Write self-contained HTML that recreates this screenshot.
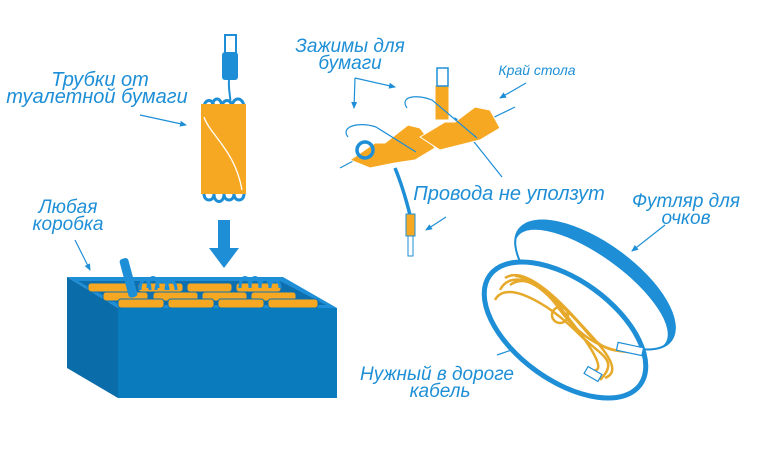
<!DOCTYPE html>
<html><head><meta charset="utf-8"><style>
html,body{margin:0;padding:0;background:#fff;}
svg{display:block}
text{font-family:"Liberation Sans",sans-serif;font-style:italic;fill:#1e8fd6;}
</style></head><body>
<svg width="760" height="457" viewBox="0 0 760 457" xmlns="http://www.w3.org/2000/svg">
<defs>
<marker id="a" markerWidth="8" markerHeight="8" refX="6" refY="3" orient="auto" markerUnits="userSpaceOnUse"><path d="M0,0 L7,3 L0,6 z" fill="#1e8fd6"/></marker>
</defs>
<text x="100" y="86" font-size="20" text-anchor="middle">Трубки от</text>
<text x="97" y="103" font-size="20" text-anchor="middle">туалетной бумаги</text>
<text x="68" y="213" font-size="19" text-anchor="middle">Любая</text>
<text x="68" y="230" font-size="19" text-anchor="middle">коробка</text>
<text x="350" y="52" font-size="19" text-anchor="middle">Зажимы для</text>
<text x="350" y="69" font-size="19" text-anchor="middle">бумаги</text>
<text x="537" y="75" font-size="14" text-anchor="middle">Край стола</text>
<text x="509" y="200" font-size="20" text-anchor="middle">Провода не уползут</text>
<text x="686" y="207" font-size="19" text-anchor="middle">Футляр для</text>
<text x="686" y="224" font-size="19" text-anchor="middle">очков</text>
<text x="437" y="380" font-size="19" text-anchor="middle">Нужный в дороге</text>
<text x="440" y="397" font-size="19" text-anchor="middle">кабель</text>
<g stroke="#1e8fd6" stroke-width="1.2" fill="none">
<line x1="140" y1="115" x2="186" y2="125" marker-end="url(#a)"/>
<line x1="75" y1="240" x2="90" y2="270" marker-end="url(#a)"/>
<polyline points="355,78 395,87" marker-end="url(#a)"/>
<line x1="355" y1="78" x2="354" y2="108" marker-end="url(#a)"/>
<line x1="526" y1="83" x2="500" y2="98" marker-end="url(#a)"/>
<line x1="502" y1="177" x2="455" y2="118" marker-end="url(#a)"/>
<line x1="446" y1="217" x2="426" y2="230" marker-end="url(#a)"/>
<line x1="665" y1="225" x2="632" y2="251" marker-end="url(#a)"/>
<line x1="497" y1="355" x2="550" y2="337" marker-end="url(#a)"/>
<line x1="550" y1="268" x2="631" y2="319"/>
<line x1="480" y1="124" x2="515" y2="107"/>
<line x1="340" y1="168" x2="355" y2="160"/>
</g>
<g stroke="#1e8fd6" stroke-width="3" fill="none">
<path d="M204,108 c0,-10 10,-10 10,0 M212,108 c0,-12 10,-12 10,0 M222,108 c0,-10 10,-10 10,0 M232,108 c0,-12 12,-12 12,0"/>
<path d="M204,194 c0,8 10,8 10,0 M214,194 c0,10 10,10 10,0 M224,194 c0,8 10,8 10,0 M234,194 c0,8 10,8 10,0"/>
<path d="M229,80 C228,92 232,100 230,108" stroke-width="2"/>
</g>
<rect x="201" y="104" width="45" height="90" fill="#f7a823"/>
<path d="M204,117 C210,135 235,150 242,190" stroke="#fff" stroke-width="1.3" fill="none"/>
<rect x="222" y="52" width="16" height="28" rx="3" fill="#1e8fd6"/>
<rect x="225" y="35" width="11" height="18" fill="#fff" stroke="#1e8fd6" stroke-width="2"/>
<rect x="218" y="220" width="12" height="30" fill="#1e8fd6"/>
<polygon points="209,248 239,248 224,268" fill="#1e8fd6"/>
<polygon points="67,277 283,277 337,308 118,308" fill="#1e8fd6"/>
<polygon points="78,281 280,281 326,305 120,305" fill="#0d6fae"/>
<g fill="#f7a823" stroke="#0d6fae" stroke-width="1">
<rect x="88" y="283" width="45" height="9" rx="3"/><rect x="138" y="283" width="45" height="9" rx="3"/><rect x="187" y="283" width="45" height="9" rx="3"/><rect x="236" y="283" width="45" height="9" rx="3"/>
<rect x="103" y="292" width="45" height="9" rx="3"/><rect x="153" y="292" width="45" height="9" rx="3"/><rect x="202" y="292" width="45" height="9" rx="3"/><rect x="251" y="292" width="45" height="9" rx="3"/>
<rect x="118" y="299" width="46" height="9" rx="3"/><rect x="168" y="299" width="46" height="9" rx="3"/><rect x="218" y="299" width="46" height="9" rx="3"/><rect x="268" y="299" width="50" height="9" rx="3"/>
</g>
<g stroke="#1e8fd6" stroke-width="3" fill="none">
<path d="M140,290 c0,-14 10,-14 10,0 M148,288 c0,-14 10,-14 10,0 M156,290 c0,-12 12,-12 12,0 M166,290 c0,-12 10,-12 10,0"/>
<path d="M240,288 c0,-14 10,-14 10,0 M250,288 c0,-14 10,-14 10,0 M260,288 c0,-12 10,-12 10,0 M270,288 c0,-10 10,-10 10,0"/>
</g>
<rect x="124" y="258" width="9" height="40" rx="3" fill="#1e8fd6" transform="rotate(-15 128 278)"/>
<polygon points="67,277 118,308 118,398 67,368" fill="#0a6ca8"/>
<rect x="118" y="308" width="219" height="90" fill="#0a7bbd"/>
<g fill="#f7a823" stroke="#fff" stroke-width="1">
<polygon points="350,160 375,143 385,143 408,125 420,128 435,148 415,160 395,163 370,168"/>
<polygon points="420,137 445,122 455,122 475,107 490,110 500,128 480,140 460,145 440,150"/>
<rect x="435" y="85" width="14" height="35" fill="#f7a823"/>
</g>
<rect x="437" y="68" width="11" height="18" fill="#fff" stroke="#1e8fd6" stroke-width="1.5"/>
<g stroke="#1e8fd6" stroke-width="1.2" fill="none">
<path d="M348,137 c-8,-10 10,-16 28,-10 l40,25"/>
<path d="M407,108 c-8,-12 10,-14 25,-8 l45,38"/>
</g>
<path d="M395,168 C400,180 405,195 410,215" stroke="#1e8fd6" stroke-width="3.5" fill="none"/>
<circle cx="365" cy="150" r="8" stroke="#1e8fd6" stroke-width="3.5" fill="none"/>
<rect x="406" y="214" width="9" height="22" fill="#f7a823" stroke="#1e8fd6" stroke-width="1"/>
<rect x="408" y="236" width="5" height="20" fill="#fff" stroke="#1e8fd6" stroke-width="1"/>
<g transform="rotate(36 595 285)">
<ellipse cx="595" cy="285" rx="95" ry="42" fill="#1e8fd6"/>
<ellipse cx="595" cy="291" rx="91" ry="34" fill="#fff"/>
<ellipse cx="595" cy="285" rx="94" ry="41" fill="none" stroke="#1e8fd6" stroke-width="2"/>
</g>
<g transform="rotate(36 565 330)">
<ellipse cx="565" cy="330" rx="93" ry="50" fill="#fff" stroke="#1e8fd6" stroke-width="5"/>
</g>
<g stroke="#e6a92a" stroke-width="2.5" fill="none">
<path d="M500,290 C510,270 540,280 560,310 C575,330 600,355 640,352"/>
<path d="M510,285 C530,270 555,300 570,320 C590,345 610,375 590,370"/>
<path d="M495,300 C505,280 545,300 580,335 C600,355 620,360 600,380"/>
<path d="M505,278 C520,268 545,285 575,318 C600,345 625,370 605,378"/>
<path d="M515,276 C525,275 560,300 585,330 C605,355 620,350 630,352"/>
<circle cx="560" cy="315" r="8"/>
</g>
<rect x="617" y="345" width="26" height="8" fill="#fff" stroke="#1e8fd6" stroke-width="1.2" transform="rotate(12 630 349)"/>
<rect x="585" y="370" width="16" height="8" fill="#fff" stroke="#1e8fd6" stroke-width="1.2" transform="rotate(30 593 374)"/>
</svg>
</body></html>
